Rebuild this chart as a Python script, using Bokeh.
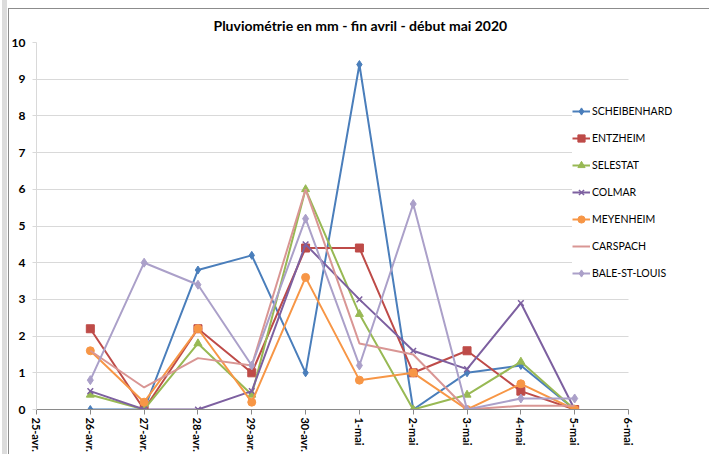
from bokeh.plotting import figure
from bokeh.models import (Range1d, FixedTicker, Legend, LegendItem, Title,
                          ColumnDataSource, BoxAnnotation)
from bokeh.embed import file_html
from bokeh.resources import INLINE

# ---- data ----
tick_labels = ["25-avr.", "26-avr.", "27-avr.", "28-avr.", "29-avr.", "30-avr.",
               "1-mai", "2-mai", "3-mai", "4-mai", "5-mai", "6-mai"]
days = ["26-avr.", "27-avr.", "28-avr.", "29-avr.", "30-avr.",
        "1-mai", "2-mai", "3-mai", "4-mai", "5-mai"]

scheibenhard = [0, 0, 3.8, 4.2, 1.0, 9.4, 0, 1.0, 1.2, 0]
entzheim     = [2.2, 0, 2.2, 1.0, 4.4, 4.4, 1.0, 1.6, 0.5, 0]
selestat     = [0.4, 0, 1.8, 0.4, 6.0, 2.6, 0, 0.4, 1.3, 0]
colmar       = [0.5, 0, 0, 0.5, 4.5, 3.0, 1.6, 1.1, 2.9, 0]
meyenheim    = [1.6, 0.2, 2.2, 0.2, 3.6, 0.8, 1.0, 0, 0.7, 0]
carspach     = [1.6, 0.6, 1.4, 1.2, 6.0, 1.8, 1.5, 0, 0.1, 0.1]
bale         = [0.8, 4.0, 3.4, 1.2, 5.2, 1.2, 5.6, 0, 0.3, 0.3]

series_names = ["SCHEIBENHARD", "ENTZHEIM", "SELESTAT", "COLMAR",
                "MEYENHEIM", "CARSPACH", "BALE-ST-LOUIS"]
series_values = [scheibenhard, entzheim, selestat, colmar,
                 meyenheim, carspach, bale]
colors = ["#4A7EBB", "#BE4B48", "#98B954", "#7D60A0",
          "#F79646", "#D99694", "#ABA0C9"]
markers = ["diamond", "square", "triangle", "x", "circle", None, "diamond"]
marker_sizes = [8, 8, 8, 8, 8, 0, 9]

title_text = "Pluviométrie en mm - fin avril - début mai 2020"
FONT = "Lato"

# layout (pixels)
W, H = 709, 454
FRAME_L, FRAME_T = 36, 42
LAST_TICK_PX = 628          # pixel of the last tick (6-mai)
n_last = len(tick_labels) - 1
x_end = n_last * (W - FRAME_L) / (LAST_TICK_PX - FRAME_L)

xpos = [tick_labels.index(d) for d in days]

p = figure(width=W, height=H, output_backend="svg", toolbar_location=None,
           x_range=Range1d(0, x_end), y_range=Range1d(0, 10),
           min_border_left=FRAME_L, min_border_right=0, min_border_top=FRAME_T,
           min_border_bottom=38)
p.outline_line_color = None
p.background_fill_color = "white"
p.border_fill_color = None
p.styles = {
    "background": ("linear-gradient(#8c8c8c,#8c8c8c) 8px 8px / 100% 1px no-repeat, "
                   "linear-gradient(#8c8c8c,#8c8c8c) 8px 8px / 1px 100% no-repeat, "
                   "linear-gradient(#dcdcdc,#dcdcdc) 2px 0px / 5px 100% no-repeat, "
                   "white"),
}

# title
p.add_layout(Title(text=title_text, align="left", offset=177,
                   text_font=FONT, text_font_style="bold",
                   text_font_size="14px", text_color="#000000",
                   standoff=18), "above")

# axes
p.xaxis.ticker = FixedTicker(ticks=list(range(len(tick_labels))))
p.xaxis.bounds = (0, n_last)
p.xaxis.major_label_overrides = {i: t for i, t in enumerate(tick_labels)}
p.xaxis.major_label_orientation = "vertical"
p.xaxis.major_label_text_font = FONT
p.xaxis.major_label_text_font_style = "bold"
p.xaxis.major_label_text_font_size = "11px"
p.xaxis.major_label_text_color = "#000000"
p.xaxis.axis_line_color = "#8a8a8a"
p.xaxis.major_tick_line_color = "#8a8a8a"
p.xaxis.major_tick_out = 5
p.xaxis.major_tick_in = 0
p.xaxis.minor_tick_line_color = None
p.xaxis.major_label_standoff = 3

p.yaxis.ticker = FixedTicker(ticks=list(range(0, 11)))
p.yaxis.major_label_text_font = FONT
p.yaxis.major_label_text_font_style = "bold"
p.yaxis.major_label_text_font_size = "12px"
p.yaxis.major_label_text_color = "#000000"
p.yaxis.axis_line_color = "#d9d9d9"
p.yaxis.major_tick_line_color = "#d9d9d9"
p.yaxis.major_tick_out = 4
p.yaxis.major_tick_in = 0
p.yaxis.minor_tick_line_color = None
p.yaxis.major_label_standoff = 7

p.xgrid.grid_line_color = None
p.ygrid.grid_line_color = "#d9d9d9"
p.ygrid.grid_line_width = 1

# blank the area to the right of the last tick (gridlines stop there)
p.add_layout(BoxAnnotation(left=n_last, fill_color="white", fill_alpha=1.0,
                           line_color=None, level="underlay"))

items = []
for name, vals, col, mk, ms in zip(series_names, series_values, colors,
                                   markers, marker_sizes):
    src = ColumnDataSource(dict(x=xpos, y=vals))
    rs = [p.line("x", "y", source=src, line_color=col, line_width=2)]
    if mk is not None:
        if mk == "x":
            rs.append(p.scatter("x", "y", source=src, marker=mk, size=ms,
                                line_color=col, line_width=1.5))
        else:
            rs.append(p.scatter("x", "y", source=src, marker=mk, size=ms,
                                fill_color=col, line_color=col))
    items.append(LegendItem(label=name, renderers=rs))

legend = Legend(items=items, location=(536, 126),
                label_text_font=FONT, label_text_font_size="10.5px",
                label_text_color="#000000",
                glyph_width=18, glyph_height=20, label_height=20,
                spacing=7, padding=12, label_standoff=2,
                border_line_color=None, background_fill_color="white",
                background_fill_alpha=1.0)
p.add_layout(legend, "center")

open("out.html", "w").write(file_html(p, INLINE))
